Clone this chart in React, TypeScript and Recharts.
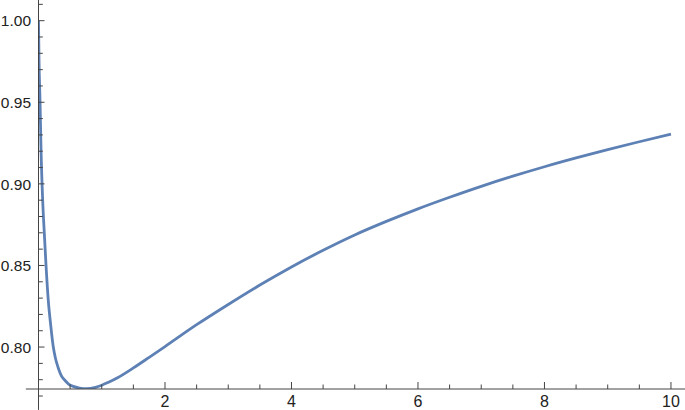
import React from "react";
import { LineChart, Line, XAxis, YAxis, ReferenceLine } from "recharts";

// curve samples
const xValues = [0, 0.008, 0.024, 0.04, 0.066, 0.09, 0.119, 0.155, 0.19, 0.234, 0.27, 0.31, 0.36, 0.42, 0.48, 0.55, 0.65, 0.76, 0.9, 1.0, 1.1, 1.25, 1.5, 1.75, 2.0, 2.5, 3.0, 3.5, 4.0, 4.5, 5.0, 5.5, 6.0, 6.5, 7.0, 7.5, 8.0, 8.5, 9.0, 9.5, 10.0];
const yValues = [1.0, 0.976, 0.951, 0.921, 0.89, 0.871, 0.85, 0.8285, 0.8145, 0.8, 0.7928, 0.7875, 0.7825, 0.7795, 0.7772, 0.7759, 0.7749, 0.7745, 0.7753, 0.7766, 0.7783, 0.7812, 0.7872, 0.7937, 0.8003, 0.8137, 0.8261, 0.838, 0.8491, 0.8593, 0.8687, 0.877, 0.8847, 0.8918, 0.8985, 0.9047, 0.9105, 0.9159, 0.921, 0.9258, 0.9305];

const xTicks = [0.5, 1, 1.5, 2, 2.5, 3, 3.5, 4, 4.5, 5, 5.5, 6, 6.5, 7, 7.5, 8, 8.5, 9, 9.5, 10];
const xLabels = ["2", "4", "6", "8", "10"];
const yTicks = [0.77, 0.78, 0.79, 0.8, 0.81, 0.82, 0.83, 0.84, 0.85, 0.86, 0.87, 0.88, 0.89, 0.9, 0.91, 0.92, 0.93, 0.94, 0.95, 0.96, 0.97, 0.98, 0.99, 1.0, 1.01];
const yLabels = ["0.80", "0.85", "0.90", "0.95", "1.00"];

const xDomain = [0, 10.222];
const yDomain = [0.7743, 1.01267];
const axisOriginY = 0.7743;

const data = xValues.map((x, i) => ({ x, y: yValues[i] }));

const AXIS = "#444444";
const LABEL = "#222222";
const FONT = "'Liberation Sans', Arial, sans-serif";
const FS = 16;
const FSY = 15.5;

const XTick = (props: any) => {
  const { x, y, payload } = props;
  const label = String(payload.value);
  const major = xLabels.includes(label);
  return (
    <g>
      <line x1={x} x2={x} y1={y} y2={y - (major ? 7 : 4.5)} stroke={AXIS} strokeWidth={1} />
      {major && (
        <text x={x} y={y + 17.5} textAnchor="middle" fill={LABEL} fontSize={FS} fontFamily={FONT}>
          {label}
        </text>
      )}
    </g>
  );
};

const YTick = (props: any) => {
  const { x, y, payload } = props;
  const label = Number(payload.value).toFixed(2);
  const major = yLabels.includes(label);
  return (
    <g>
      <line x1={x} x2={x + (major ? 6 : 4.3)} y1={y} y2={y} stroke={AXIS} strokeWidth={1} />
      {major && (
        <text x={x - 7.5} y={y + 5.7} textAnchor="end" fill={LABEL} fontSize={FSY} fontFamily={FONT}>
          {label}
        </text>
      )}
    </g>
  );
};

export default function App() {
  return (
    <div style={{ position: "absolute", left: 0, top: 0, width: 685, height: 410, background: "#fff" }}>
      <LineChart width={685} height={410} data={data} margin={{ top: 0, right: 0, left: 0, bottom: 0 }}>
        <XAxis
          dataKey="x"
          type="number"
          domain={xDomain}
          ticks={xTicks}
          interval={0}
          tickSize={0}
          tickMargin={0}
          tickLine={false}
          tick={(p: any) => <XTick {...p} />}
          height={21}
          stroke={AXIS}
          allowDataOverflow
        />
        <YAxis
          type="number"
          domain={yDomain}
          ticks={yTicks}
          interval={0}
          tickSize={0}
          tickMargin={0}
          tickLine={false}
          tick={(p: any) => <YTick {...p} />}
          width={38.5}
          stroke={AXIS}
          allowDataOverflow
        />
        <ReferenceLine
          segment={[{ x: -0.2, y: axisOriginY }, { x: 0, y: axisOriginY }]}
          stroke={AXIS}
          strokeWidth={1}
          ifOverflow="visible"
        />
        <ReferenceLine
          segment={[{ x: 0, y: axisOriginY }, { x: 0, y: 0.7615 }]}
          stroke={AXIS}
          strokeWidth={1}
          ifOverflow="visible"
        />
        <Line
          type="monotoneX"
          dataKey="y"
          stroke="#5E81B5"
          strokeWidth={2.8}
          dot={false}
          isAnimationActive={false}
        />
      </LineChart>
    </div>
  );
}
